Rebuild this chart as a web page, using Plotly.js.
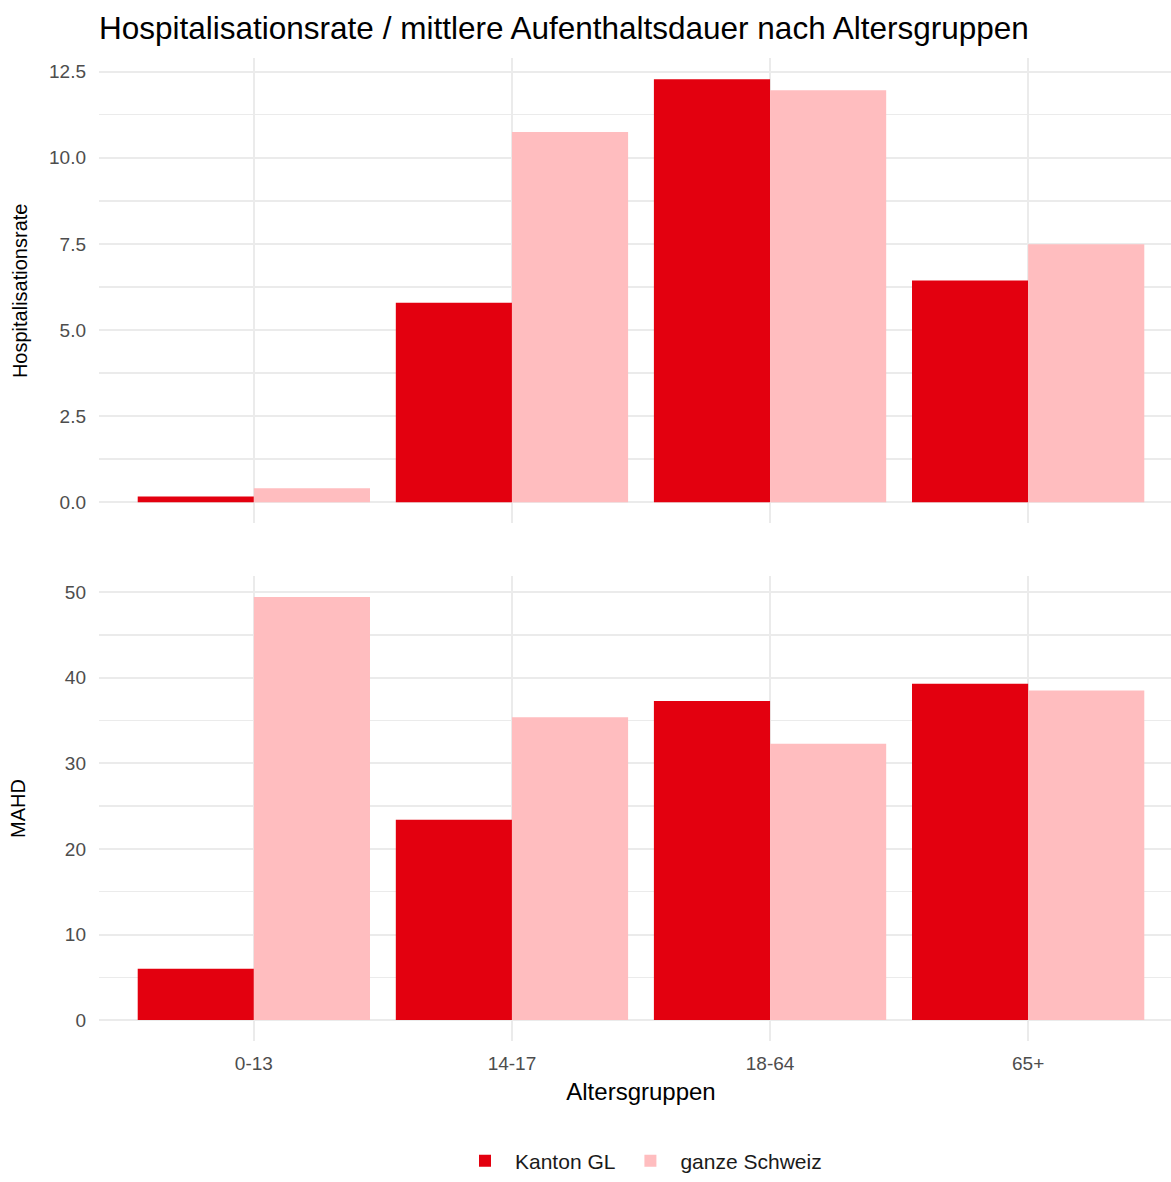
<!DOCTYPE html>
<html>
<head>
<meta charset="utf-8">
<script src="https://cdn.plot.ly/plotly-3.0.1.min.js"></script>
<style>
html, body { margin: 0; padding: 0; overflow: hidden; background: #fff; }
#chart { width: 1183px; height: 1182px; }
</style>
</head>
<body>
<div id="chart"></div>
<script>
const categories = ["0-13", "14-17", "18-64", "65+"];
const seriesNames = ["Kanton GL", "ganze Schweiz"];
const hospRateGL = [0.17, 5.79, 12.28, 6.44];
const hospRateCH = [0.41, 10.75, 11.96, 7.49];
const mahdGL = [6.0, 23.4, 37.3, 39.3];
const mahdCH = [49.45, 35.4, 32.3, 38.5];
const yTicksTop = [0, 2.5, 5, 7.5, 10, 12.5];
const yTickTextTop = ["0.0", "2.5", "5.0", "7.5", "10.0", "12.5"];
const yTicksBottom = [0, 10, 20, 30, 40, 50];
const colors = ["#E3000F", "#FFBDBF"];

const font = "Liberation Sans, Arial, sans-serif";
const gridColor = "#EBEBEB";

const traces = [
  {type: "bar", name: seriesNames[0], x: categories, y: hospRateGL, xaxis: "x2", yaxis: "y2",
   marker: {color: colors[0]}, legendgroup: "gl", showlegend: true, hoverinfo: "x+y"},
  {type: "bar", name: seriesNames[1], x: categories, y: hospRateCH, xaxis: "x2", yaxis: "y2",
   marker: {color: colors[1]}, legendgroup: "ch", showlegend: true, hoverinfo: "x+y"},
  {type: "bar", name: seriesNames[0], x: categories, y: mahdGL, xaxis: "x", yaxis: "y",
   marker: {color: colors[0]}, legendgroup: "gl", showlegend: false, hoverinfo: "x+y"},
  {type: "bar", name: seriesNames[1], x: categories, y: mahdCH, xaxis: "x", yaxis: "y",
   marker: {color: colors[1]}, legendgroup: "ch", showlegend: false, hoverinfo: "x+y"}
];

const xCommon = {
  type: "category", categoryorder: "array", categoryarray: categories,
  range: [-0.6, 3.6], domain: [0, 1],
  showgrid: true, gridcolor: gridColor, gridwidth: 2,
  zeroline: false, showline: false, ticks: "",
  tickfont: {family: font, size: 19, color: "#4D4D4D"}
};

const layout = {
  width: 1183, height: 1182,
  margin: {l: 99, r: 0, t: 0, b: 0},
  paper_bgcolor: "#fff", plot_bgcolor: "#fff",
  barmode: "group", bargap: 0.1, bargroupgap: 0,
  font: {family: font, color: "#000"},
  title: {
    text: "Hospitalisationsrate / mittlere Aufenthaltsdauer nach Altersgruppen",
    font: {family: font, size: 31.5, color: "#000"},
    x: 0, xref: "paper", xanchor: "left",
    y: 1 - 28 / 1182, yref: "container", yanchor: "middle"
  },
  xaxis: Object.assign({}, xCommon, {
    anchor: "y", showticklabels: true, ticklabelstandoff: 9,
    title: {text: "Altersgruppen", font: {family: font, size: 24, color: "#000"}, standoff: 9}
  }),
  xaxis2: Object.assign({}, xCommon, {anchor: "y2", matches: "x", showticklabels: false}),
  yaxis: {
    domain: [0.1146, 0.5104], anchor: "x",
    range: [-2.47, 51.92],
    tickvals: yTicksBottom,
    showgrid: true, gridcolor: gridColor, gridwidth: 2,
    minor: {dtick: 5, showgrid: true, gridcolor: gridColor, gridwidth: 1.5, tick0: 0},
    zeroline: false, showline: false, ticks: "",
    ticklabelstandoff: 12,
    tickfont: {family: font, size: 19, color: "#4D4D4D"},
    title: {text: "MAHD", font: {family: font, size: 20, color: "#000"}, standoff: 33}
  },
  yaxis2: {
    domain: [0.5549, 0.9505], anchor: "x2",
    range: [-0.614, 12.89],
    tickvals: yTicksTop, ticktext: yTickTextTop,
    showgrid: true, gridcolor: gridColor, gridwidth: 2,
    minor: {dtick: 1.25, showgrid: true, gridcolor: gridColor, gridwidth: 1.5, tick0: 0},
    zeroline: false, showline: false, ticks: "",
    ticklabelstandoff: 12,
    tickfont: {family: font, size: 19, color: "#4D4D4D"},
    title: {text: "Hospitalisationsrate", font: {family: font, size: 20, color: "#000"}, standoff: 16}
  },
  legend: {
    orientation: "h", x: 0.5, xanchor: "center",
    y: 1 - 1167 / 1182, yanchor: "middle",
    font: {family: font, size: 21, color: "#1a1a1a"},
    itemwidth: 50, traceorder: "normal"
  },
  showlegend: true
};

Plotly.newPlot("chart", traces, layout, {displayModeBar: false, staticPlot: true});
</script>
</body>
</html>
